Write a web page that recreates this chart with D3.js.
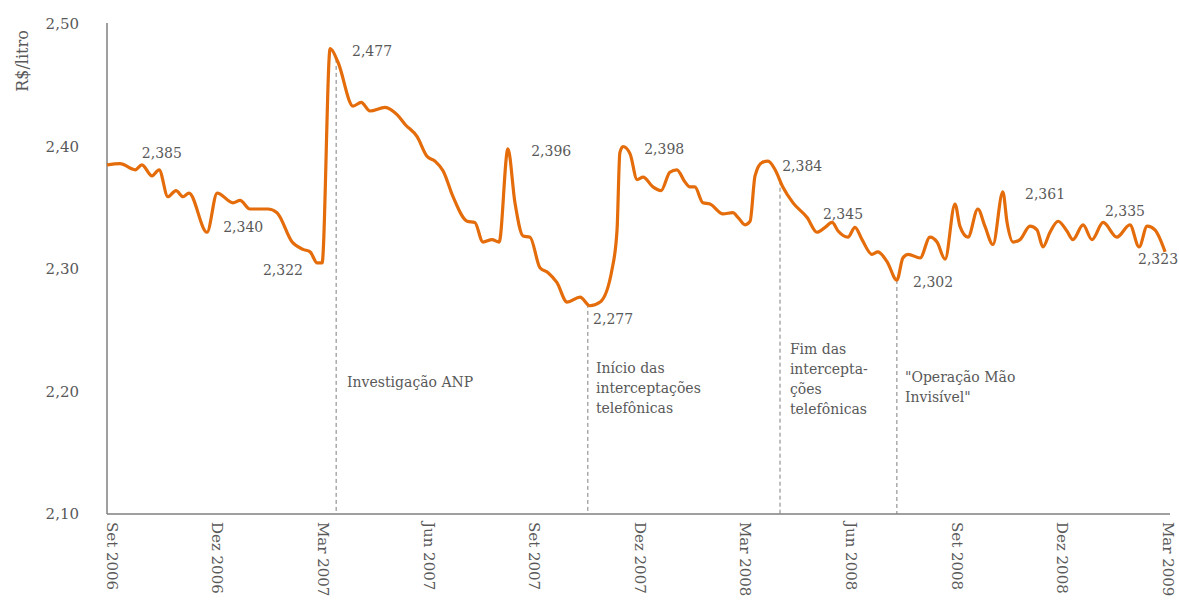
<!DOCTYPE html>
<html>
<head>
<meta charset="utf-8">
<title>Preço médio da gasolina</title>
<script src="https://d3js.org/d3.v7.min.js"></script>
<style>
  html, body {
    margin:0;
    padding:0;
    background:#fff;
  }
  svg text {
    font-family:"DejaVu Serif", serif;
    font-size:14px;
    fill:#595959;
  }
  svg text.ytick, svg text.xtick {
    font-size:15px;
  }
  svg text.ytitle {
    font-size:16px;
  }
</style>
</head>
<body>
<svg id="chart" width="1179" height="601"></svg>
<script>
// months counted from Sep 2006, price in R$/litro
var months = [0, 0.37, 0.80, 0.99, 1.28, 1.48, 1.73, 1.96, 2.16, 2.33, 2.84, 3.13, 3.58, 3.78, 4.06, 4.57, 4.83,
  5.26, 5.57, 5.77, 5.97, 6.11, 6.34, 6.56, 6.99, 7.22, 7.47, 7.90, 8.24, 8.47, 8.81, 9.09, 9.32, 9.55, 9.83,
  10.23, 10.45, 10.68, 10.94, 11.14, 11.39, 11.59, 11.82, 12.02, 12.30, 12.53, 12.78, 13.07, 13.44, 13.72, 14.01,
  14.35, 14.49, 14.57, 14.66, 14.86, 15.06, 15.23, 15.51, 15.74, 15.99, 16.19, 16.42, 16.56, 16.70, 16.93, 17.13,
  17.50, 17.78, 17.93, 18.13, 18.27, 18.41, 18.61, 18.78, 18.98, 19.20, 19.49, 19.89, 20.17, 20.40, 20.60, 20.77,
  21.05, 21.25, 21.45, 21.73, 21.90, 22.16, 22.44, 22.61, 22.76, 23.10, 23.38, 23.58, 23.81, 24.09, 24.23, 24.46,
  24.74, 24.94, 25.17, 25.45, 25.57, 25.74, 25.94, 26.22, 26.42, 26.59, 26.79, 27.02, 27.27, 27.44, 27.73, 27.98,
  28.30, 28.69, 29.06, 29.32, 29.55, 29.77, 30.06];
var prices = [2.385, 2.386, 2.381, 2.385, 2.376, 2.381, 2.359, 2.364, 2.359, 2.362, 2.330, 2.362, 2.354, 2.356, 2.349, 2.349, 2.346,
  2.322, 2.316, 2.314, 2.305, 2.305, 2.480, 2.469, 2.433, 2.436, 2.429, 2.432, 2.426, 2.418, 2.408, 2.392, 2.388, 2.380, 2.359,
  2.339, 2.338, 2.322, 2.324, 2.322, 2.398, 2.354, 2.327, 2.326, 2.301, 2.297, 2.289, 2.273, 2.277, 2.270, 2.273,
  2.300, 2.332, 2.395, 2.400, 2.394, 2.373, 2.375, 2.367, 2.364, 2.379, 2.381, 2.371, 2.367, 2.367, 2.354, 2.353,
  2.345, 2.346, 2.342, 2.336, 2.339, 2.376, 2.387, 2.388, 2.381, 2.367, 2.354, 2.342, 2.330, 2.334, 2.338, 2.331,
  2.326, 2.334, 2.324, 2.312, 2.314, 2.306, 2.291, 2.309, 2.312, 2.309, 2.326, 2.322, 2.308, 2.353, 2.335, 2.326,
  2.349, 2.335, 2.320, 2.363, 2.338, 2.322, 2.324, 2.335, 2.332, 2.318, 2.330, 2.339, 2.331, 2.324, 2.336, 2.324,
  2.338, 2.326, 2.336, 2.318, 2.335, 2.332, 2.314];

var tickMonths = [0, 3, 6, 9, 12, 15, 18, 21, 24, 27, 30];
var tickLabels = ["Set 2006", "Dez 2006", "Mar 2007", "Jun 2007", "Set 2007", "Dez 2007",
  "Mar 2008", "Jun 2008", "Set 2008", "Dez 2008", "Mar 2009"];
var yTicks = [2.10, 2.20, 2.30, 2.40, 2.50];

// value callouts
var calloutValues = [2.385, 2.340, 2.322, 2.477, 2.396, 2.398, 2.277, 2.384, 2.345, 2.302, 2.361, 2.335, 2.323];
var calloutMonths = [0.99, 3.30, 4.43, 6.96, 12.05, 15.26, 13.81, 19.18, 20.34, 22.90, 26.08, 28.35, 29.29];
var calloutPrices = [2.391, 2.330, 2.295, 2.474, 2.392, 2.394, 2.255, 2.380, 2.341, 2.285, 2.357, 2.343, 2.304];

// events
var eventMonths = [6.51, 13.66, 19.12, 22.44];
var eventTexts = [
  ["Investigação ANP"],
  ["Início das", "interceptações", "telefônicas"],
  ["Fim das", "intercepta-", "ções", "telefônicas"],
  ["\"Operação Mão", "Invisível\""]
];
var eventTextMonths = [6.82, 13.89, 19.40, 22.67];
var eventTextPrices = [2.204, 2.215, 2.231, 2.208];

var br = d3.formatLocale({decimal: ",", thousands: ".", grouping: [3], currency: ["R$", ""]});
var fmt2 = br.format(".2f"), fmt3 = br.format(".3f");

var svg = d3.select("#chart");
var x = d3.scaleLinear().domain([0, 30]).range([107, 1163]);
var y = d3.scaleLinear().domain([2.10, 2.50]).range([514, 24]);

var data = months.map(function(m, i) { return {m: m, v: prices[i]}; });

// y title
svg.append("text")
  .attr("class", "ytitle")
  .attr("transform", "translate(22,61) rotate(-90)")
  .attr("text-anchor", "middle")
  .attr("dy", "0.35em")
  .text("R$/litro");

// y tick labels
svg.selectAll(".ytick").data(yTicks).enter().append("text")
  .attr("class", "ytick")
  .attr("x", 79)
  .attr("y", function(d) { return y(d); })
  .attr("dy", "0.35em")
  .attr("text-anchor", "end")
  .text(fmt2);

// x tick labels, rotated
svg.selectAll(".xtick").data(tickMonths).enter().append("text")
  .attr("class", "xtick")
  .attr("transform", function(d) { return "translate(" + (x(d) + 5) + ",522) rotate(90)"; })
  .attr("dy", "0.35em")
  .text(function(d, i) { return tickLabels[i]; });

// event dashed lines start at the curve
function valueAt(m) {
  var i = d3.bisector(function(d) { return d.m; }).left(data, m);
  var a = data[i - 1], b = data[i];
  return a.v + (b.v - a.v) * (m - a.m) / (b.m - a.m);
}
svg.selectAll(".event").data(eventMonths).enter().append("line")
  .attr("class", "event")
  .attr("x1", function(d) { return x(d); })
  .attr("x2", function(d) { return x(d); })
  .attr("y1", function(d) { return y(valueAt(d)); })
  .attr("y2", y(2.10))
  .attr("stroke", "#7f7f7f")
  .attr("stroke-width", 1)
  .attr("stroke-dasharray", "4,3");

// axes lines
svg.append("line")
  .attr("x1", x(0)).attr("x2", x(0))
  .attr("y1", y(2.50) - 1).attr("y2", y(2.10))
  .attr("stroke", "#7f7f7f").attr("stroke-width", 1.5);
svg.append("line")
  .attr("x1", x(0)).attr("x2", 1170)
  .attr("y1", y(2.10)).attr("y2", y(2.10))
  .attr("stroke", "#7f7f7f").attr("stroke-width", 1.5);

// price line
var line = d3.line()
  .x(function(d) { return x(d.m); })
  .y(function(d) { return y(d.v); })
  .curve(d3.curveMonotoneX);

svg.append("path")
  .datum(data)
  .attr("d", line)
  .attr("fill", "none")
  .attr("stroke", "#e46c0a")
  .attr("stroke-width", 3.2)
  .attr("stroke-linejoin", "round");

// callouts
svg.selectAll(".callout").data(calloutValues).enter().append("text")
  .attr("class", "callout")
  .attr("x", function(d, i) { return x(calloutMonths[i]); })
  .attr("y", function(d, i) { return y(calloutPrices[i]); })
  .text(fmt3);

// event texts
eventTexts.forEach(function(lines, i) {
  var t = svg.append("text")
    .attr("x", x(eventTextMonths[i]))
    .attr("y", y(eventTextPrices[i]));
  lines.forEach(function(s, j) {
    t.append("tspan")
      .attr("x", x(eventTextMonths[i]))
      .attr("dy", j === 0 ? 0 : 20)
      .text(s);
  });
});
</script>
</body>
</html>
